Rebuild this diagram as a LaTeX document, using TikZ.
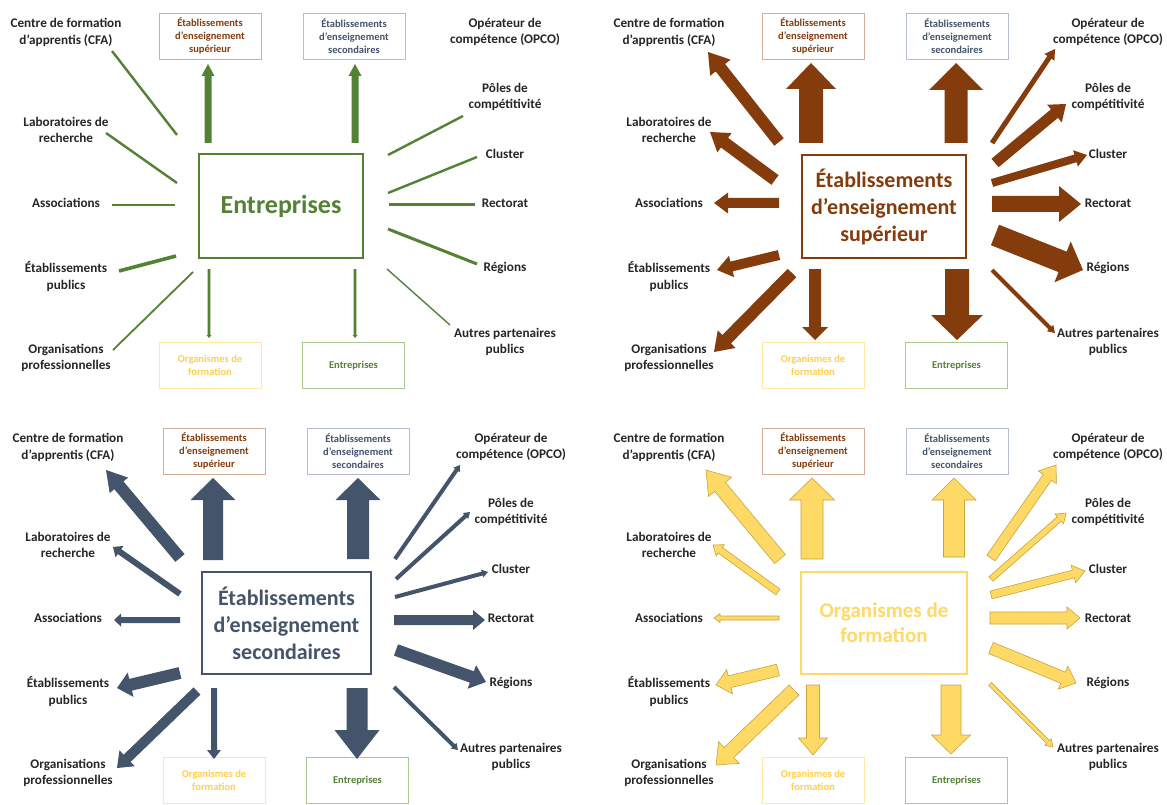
\documentclass[tikz,border=0pt]{standalone}
\usepackage{fontspec}
\setmainfont{Carlito}
\usetikzlibrary{calc}
\definecolor{grn}{HTML}{548235}
\definecolor{grnl}{HTML}{A9C98E}
\definecolor{brn}{HTML}{843C0C}
\definecolor{brnl}{HTML}{D2AE98}
\definecolor{nvy}{HTML}{44546A}
\definecolor{nvyl}{HTML}{B4BECC}
\definecolor{yel}{HTML}{FFD966}
\definecolor{yelo}{HTML}{C9A43A}
\definecolor{yell}{HTML}{FFE8A3}
\definecolor{yelt}{HTML}{FFCF4D}
\definecolor{txt}{HTML}{262626}
% block arrow: style, tail, tip, half shaft, half head, head length
\newcommand{\blockarr}[6]{%
  \coordinate (bhA) at ($(#3)!#6pt!(#2)$);
  \path[#1] ($(#2)!#4pt!90:(#3)$) -- ($(bhA)!#4pt!90:(#3)$) -- ($(bhA)!#5pt!90:(#3)$) -- (#3) -- ($(bhA)!#5pt!-90:(#3)$) -- ($(bhA)!#4pt!-90:(#3)$) -- ($(#2)!#4pt!-90:(#3)$) -- cycle;}
% named arrow: style, name, tail, tip, half shaft, half head, head length
\newcommand{\arr}[7]{%
  \coordinate (#2t) at (#3);
  \coordinate (#2h) at (#4);
  \blockarr{#1}{#2t}{#2h}{#5}{#6}{#7}}
% labels: prefix, left x, right x, dy
\newcommand{\quadlabels}[4]{%
  \node[lbl] (#1cfa) at (#2,{32.5+#4}) {Centre de formation\\d’apprentis (CFA)};
  \node[lbl] (#1lab) at (#2,{130+#4}) {Laboratoires de\\recherche};
  \node[lbl] (#1asso) at (#2,{203+#4}) {Associations};
  \node[lbl] (#1etab) at (#2,{276.5+#4}) {Établissements\\publics};
  \node[lbl] (#1orgp) at (#2,{358+#4}) {Organisations\\professionnelles};
  \node[lbl] (#1opco) at (#3,{32+#4}) {Opérateur de\\compétence (OPCO)};
  \node[lbl] (#1pole) at (#3,{97+#4}) {Pôles de\\compétitivité};
  \node[lbl] (#1clus) at (#3,{154+#4}) {Cluster};
  \node[lbl] (#1rect) at (#3,{203+#4}) {Rectorat};
  \node[lbl] (#1regi) at (#3,{268+#4}) {Régions};
  \node[lbl] (#1autr) at (#3,{342+#4}) {Autres partenaires\\publics};}
% small boxes: prefix, dx, dy
\newcommand{\quadboxes}[3]{%
  \node[sbox, draw=brnl, text=brn] (#1sup) at ({210+#2},{36+#3}) {Établissements\\d’enseignement\\supérieur};
  \node[sbox, draw=nvyl, text=nvy] (#1sec) at ({354+#2},{36+#3}) {Établissements\\d’enseignement\\secondaires};
  \node[sbox, draw=yell, text=yelt] (#1org) at ({210+#2},{365.5+#3}) {Organismes de\\formation};
  \node[sbox, draw=grnl, text=grn] (#1ent) at ({353.5+#2},{365.5+#3}) {Entreprises};}
\begin{document}
\begin{tikzpicture}[x=1pt,y=-1pt,
  lbl/.style={font=\bfseries\fontsize{13.2}{16.5}\selectfont, align=center, text=txt, inner sep=0pt},
  sbox/.style={line width=0.9pt, minimum width=102pt, minimum height=46pt, align=center, inner sep=0pt, font=\bfseries\fontsize{10.5}{13}\selectfont},
  mbox/.style={line width=2.2pt, align=center, inner sep=0pt, font=\bfseries\fontsize{22}{27}\selectfont},
  garr/.style={fill=grn},
  barr/.style={fill=brn},
  narr/.style={fill=nvy},
  yarr/.style={fill=yel, draw=yelo, line width=0.6pt, line join=miter},
  gline/.style={draw=grn}]
\fill[white] (0,0) rectangle (1167,805);
\useasboundingbox (0,0) rectangle (1167,805);

% ================= Quadrant 1: Entreprises =================
\quadlabels{a}{66}{505}{0}
\quadboxes{a}{0}{0}
\node[mbox, draw=grn, text=grn, minimum width=164pt, minimum height=104pt, font=\bfseries\fontsize{26}{30}\selectfont] (amain) at (281,206) {Entreprises};
\coordinate (acfat) at (177,135); \coordinate (acfah) at (112,51);
\coordinate (alabt) at (177,183); \coordinate (alabh) at (106,133);
\coordinate (aassot) at (175,205); \coordinate (aassoh) at (112,205);
\coordinate (aetabt) at (176,256); \coordinate (aetabh) at (119,271);
\coordinate (aorgpt) at (193,272); \coordinate (aorgph) at (113,350);
\coordinate (apolet) at (388,155); \coordinate (apoleh) at (463,116);
\coordinate (aclust) at (388,193); \coordinate (aclush) at (477,157);
\coordinate (arectt) at (389,205); \coordinate (arecth) at (475,205);
\coordinate (aregit) at (388,229); \coordinate (aregih) at (477,264);
\coordinate (aautrt) at (387,269); \coordinate (aautrh) at (450,325);
\draw[gline, line width=2.4pt] (acfat) -- (acfah);
\draw[gline, line width=2.4pt] (alabt) -- (alabh);
\draw[gline, line width=2.4pt] (aassot) -- (aassoh);
\draw[gline, line width=3.6pt] (aetabt) -- (aetabh);
\draw[gline, line width=1.8pt] (aorgpt) -- (aorgph);
\draw[gline, line width=2.4pt] (apolet) -- (apoleh);
\draw[gline, line width=2.4pt] (aclust) -- (aclush);
\draw[gline, line width=3pt] (arectt) -- (arecth);
\draw[gline, line width=3pt] (aregit) -- (aregih);
\draw[gline, line width=1.4pt] (aautrt) -- (aautrh);
\arr{garr}{aup1}{208,143}{208,64}{3.5}{6.5}{12}
\arr{garr}{aup2}{355,143}{355,64}{3.5}{6.5}{12}
\arr{garr}{adn1}{209,269}{209,338}{1.3}{2.5}{3}
\arr{garr}{adn2}{355,269}{355,338}{1.3}{2.5}{3}

% ================= Quadrant 2: Etab. sup =================
\quadlabels{b}{669}{1108}{0}
\quadboxes{b}{603}{0}
\node[mbox, draw=brn, text=brn, minimum width=164pt, minimum height=103pt] (bmain) at (884,206.5) {Établissements\\d’enseignement\\supérieur};
\arr{barr}{bcfa}{779,142}{708,52}{6}{13}{20}
\arr{barr}{blab}{775,180}{710,132}{6}{12}{18}
\arr{barr}{basso}{779,203}{714,203}{5}{10.5}{14}
\arr{barr}{betab}{779,255}{717,270}{5}{11}{15}
\arr{barr}{borgp}{792,273}{714,352}{6}{12.5}{18}
\arr{barr}{bup1}{811,143}{811,63}{12}{25}{26}
\arr{barr}{bup2}{956,143}{956,63}{11.5}{27}{27}
\arr{barr}{bdn1}{815,269}{815,340}{6}{13}{13}
\arr{barr}{bdn2}{957,269}{957,340}{12}{26}{25}
\arr{barr}{bopco}{992,143}{1055,49}{2.5}{6}{10}
\arr{barr}{bpole}{995,163}{1066,104}{5.5}{11.5}{15}
\arr{barr}{bclus}{992,183}{1087,155}{4}{8.5}{12}
\arr{barr}{brect}{992,204}{1081,204}{8}{18}{22}
\arr{barr}{bregi}{995,235}{1083,270}{11}{22}{22}
\arr{barr}{bautr}{992,270}{1055,333}{2}{4.5}{7}

% ================= Quadrant 3: Etab. secondaires =================
\quadlabels{c}{68}{511}{415}
\quadboxes{c}{4}{415}
\node[mbox, draw=nvy, text=nvy, minimum width=169pt, minimum height=102pt] (cmain) at (286.5,623) {Établissements\\d’enseignement\\secondaires};
\arr{narr}{ccfa}{180,558}{106,470}{6}{12}{20}
\arr{narr}{clab}{180,594}{113,547}{3}{7}{8}
\arr{narr}{casso}{180,620}{114,620}{3}{6.5}{7}
\arr{narr}{cetab}{180,673}{117,688}{6}{12.5}{14}
\arr{narr}{corgp}{197,691}{117,768}{5}{11}{14}
\arr{narr}{cup1}{213,560}{213,478}{10}{22.5}{22}
\arr{narr}{cup2}{358,559}{358,478}{11}{22.5}{22}
\arr{narr}{cdn1}{214,688}{214,759}{3}{7}{9}
\arr{narr}{cdn2}{357,688}{357,759}{10.5}{22.5}{29}
\arr{narr}{copco}{395,559}{460,465}{2}{4}{6}
\arr{narr}{cpole}{396,579}{470,512}{2}{4}{6}
\arr{narr}{cclus}{395,597}{488,572}{2}{4}{6}
\arr{narr}{crect}{394,620}{485,620}{5}{10}{12}
\arr{narr}{cregi}{396,650}{486,682}{6}{12.5}{15}
\arr{narr}{cautr}{394,687}{458,750}{2}{4}{6}

% ================= Quadrant 4: Organismes de formation =================
\quadlabels{d}{669}{1108}{415}
\quadboxes{d}{603}{415}
\node[mbox, draw=yel, text=yel, minimum width=166pt, minimum height=102pt, font=\bfseries\fontsize{21}{25}\selectfont] (dmain) at (884,623) {Organismes de\\formation};
\arr{yarr}{dcfa}{780,559}{706,470}{7}{15}{22}
\arr{yarr}{dlab}{778,592}{713,545}{3.5}{7}{9}
\arr{yarr}{dasso}{779,618}{714,618}{2}{4.5}{6}
\arr{yarr}{detab}{778,670}{716,685}{6}{12.5}{14}
\arr{yarr}{dorgp}{794,690}{716,765}{7}{15}{18}
\arr{yarr}{dup1}{812,559}{812,478}{11}{22.5}{22}
\arr{yarr}{dup2}{954,557}{954,478}{10.5}{22}{22}
\arr{yarr}{ddn1}{813,685}{813,755}{6.5}{14.5}{17}
\arr{yarr}{ddn2}{951,685}{951,754}{10}{19.5}{19}
\arr{yarr}{dopco}{991,558}{1056,465}{5}{11}{15}
\arr{yarr}{dpole}{991,579}{1066,513}{3}{6.5}{9}
\arr{yarr}{dclus}{991,595}{1085,571}{4}{9}{12}
\arr{yarr}{drect}{990,618}{1080,618}{6}{11}{13}
\arr{yarr}{dregi}{991,648}{1076,683}{6}{12.5}{14}
\arr{yarr}{dautr}{990,684}{1053,747}{2}{4.5}{7}
\end{tikzpicture}
\end{document}
